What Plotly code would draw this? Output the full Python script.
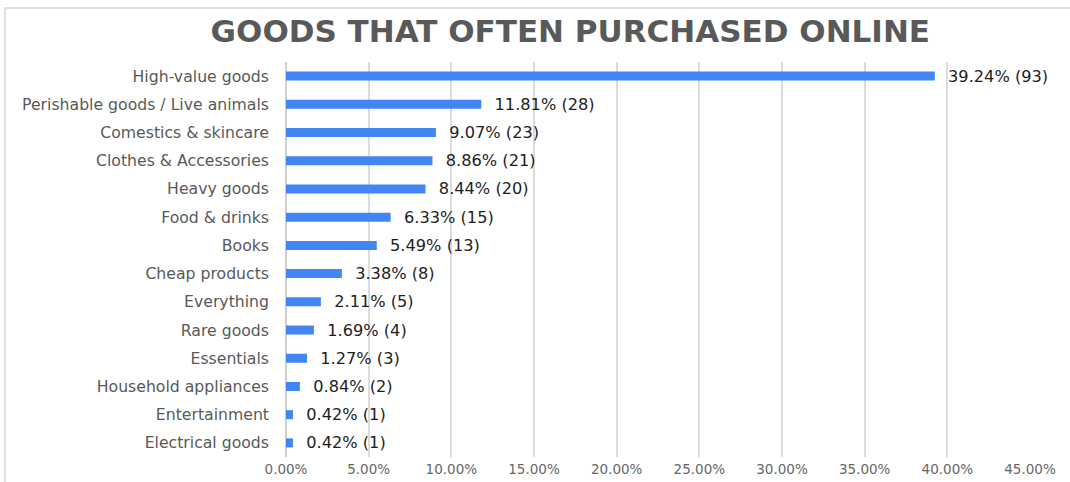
import plotly.graph_objects as go

# Survey answers: goods that are often purchased online
categories = [
    "High-value goods",
    "Perishable goods / Live animals",
    "Comestics & skincare",
    "Clothes & Accessories",
    "Heavy goods",
    "Food & drinks",
    "Books",
    "Cheap products",
    "Everything",
    "Rare goods",
    "Essentials",
    "Household appliances",
    "Entertainment",
    "Electrical goods",
]
shares = [39.24, 11.81, 9.07, 8.86, 8.44, 6.33, 5.49, 3.38, 2.11, 1.69, 1.27, 0.84, 0.42, 0.42]
counts = [93, 28, 23, 21, 20, 15, 13, 8, 5, 4, 3, 2, 1, 1]
tick_values = [0, 5, 10, 15, 20, 25, 30, 35, 40, 45]
tick_labels = ["0.00%", "5.00%", "10.00%", "15.00%", "20.00%",
               "25.00%", "30.00%", "35.00%", "40.00%", "45.00%"]

labels = ["  {:.2f}% ({})".format(s, c) for s, c in zip(shares, counts)]

fig = go.Figure(
    go.Bar(
        x=shares,
        y=categories,
        orientation="h",
        width=0.32,
        marker=dict(color="#4285F4", line=dict(width=0)),
        text=labels,
        textposition="outside",
        constraintext="none",
        cliponaxis=False,
        textfont=dict(family="DejaVu Sans, sans-serif", size=16.2, color="#1e1e1e"),
    )
)

fig.update_layout(
    width=1070,
    height=482,
    margin=dict(l=286, r=40, t=62, b=25),
    paper_bgcolor="white",
    plot_bgcolor="white",
    showlegend=False,
    title=dict(
        text="<b>GOODS THAT OFTEN PURCHASED ONLINE</b>",
        x=0.533,
        xanchor="center",
        y=0.935,
        yanchor="middle",
        font=dict(family="DejaVu Sans, sans-serif", size=31, color="#595959"),
    ),
    xaxis=dict(
        range=[0, 45],
        tickvals=tick_values,
        ticktext=tick_labels,
        showgrid=True,
        gridcolor="#dcdcdc",
        gridwidth=1.5,
        zeroline=True,
        zerolinecolor="#cfcfcf",
        zerolinewidth=1.5,
        showline=False,
        ticks="",
        ticklabelstandoff=2,
        automargin=False,
        tickfont=dict(family="DejaVu Sans, sans-serif", size=13.5, color="#666666"),
        fixedrange=True,
    ),
    yaxis=dict(
        categoryorder="array",
        categoryarray=categories[::-1],
        showgrid=False,
        zeroline=False,
        showline=False,
        ticks="",
        ticklabelstandoff=16,
        tickfont=dict(family="DejaVu Sans, sans-serif", size=15.7, color="#595959"),
        fixedrange=True,
    ),
    shapes=[
        dict(
            type="rect",
            xref="paper",
            yref="paper",
            x0=-281 / 744,
            x1=1.1,
            y0=-0.2,
            y1=1 + 54 / 395,
            line=dict(color="#e0e0e0", width=2),
            fillcolor="rgba(0,0,0,0)",
            layer="below",
        )
    ],
)

fig.write_html("out.html")
